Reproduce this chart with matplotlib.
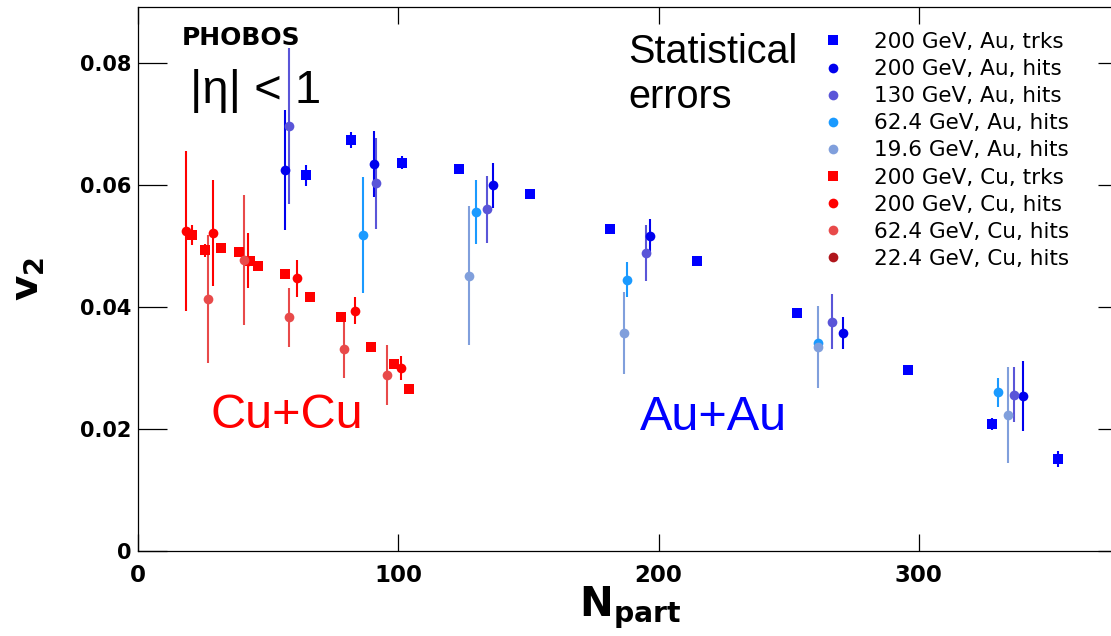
import matplotlib
matplotlib.use("Agg")
import matplotlib.pyplot as plt
from matplotlib.lines import Line2D
from matplotlib.ticker import FuncFormatter

# ---------------------------------------------------------------
# data
# ---------------------------------------------------------------
au_trk_npart = [64.5, 81.9, 101.4, 123.2, 150.8, 181.2, 214.9, 253.3, 295.9, 328.0, 353.3]
au_trk_v2 = [0.0616, 0.0674, 0.0637, 0.0626, 0.0586, 0.0528, 0.0475, 0.0390, 0.0297, 0.0208, 0.0151]
au_trk_err = [0.0017, 0.0013, 0.0011, 0.0008, 0.0005, 0.0005, 0.0005, 0.0005, 0.0006, 0.0010, 0.0013]

au200_npart = [56.5, 90.8, 136.4, 196.7, 271.0, 339.9]
au200_v2 = [0.0625, 0.0634, 0.0600, 0.0516, 0.0358, 0.0254]
au200_err = [0.0098, 0.0054, 0.0037, 0.0029, 0.0026, 0.0058]

au130_npart = [58.2, 91.3, 134.2, 195.0, 266.8, 336.7]
au130_v2 = [0.0697, 0.0603, 0.0560, 0.0489, 0.0376, 0.0256]
au130_err = [0.0128, 0.0075, 0.0055, 0.0046, 0.0045, 0.0045]

au62_npart = [86.4, 130.0, 188.0, 261.3, 330.3]
au62_v2 = [0.0518, 0.0556, 0.0445, 0.0341, 0.0260]
au62_err = [0.0095, 0.0053, 0.0029, 0.0012, 0.0024]

au19_npart = [127.2, 186.9, 261.3, 334.1]
au19_v2 = [0.0451, 0.0358, 0.0334, 0.0223]
au19_err = [0.0114, 0.0067, 0.0067, 0.0078]

cu_trk_npart = [20.6, 25.8, 31.9, 38.8, 43.1, 46.0, 56.3, 66.0, 78.1, 89.5, 98.2, 104.1]
cu_trk_v2 = [0.0518, 0.0493, 0.0497, 0.0490, 0.0476, 0.0468, 0.0454, 0.0417, 0.0384, 0.0335, 0.0307, 0.0266]
cu_trk_err = [0.0016, 0.0011, 0.0008, 0.0008, 0.0008, 0.0007, 0.0007, 0.0006, 0.0006, 0.0005, 0.0005, 0.0005]

cu200_npart = [18.3, 29.0, 42.4, 60.9, 83.2, 101.2]
cu200_v2 = [0.0525, 0.0522, 0.0476, 0.0447, 0.0394, 0.0300]
cu200_err = [0.0131, 0.0087, 0.0045, 0.0030, 0.0022, 0.0019]

cu62_npart = [27.0, 40.9, 58.1, 79.2, 95.6]
cu62_v2 = [0.0413, 0.0477, 0.0383, 0.0332, 0.0289]
cu62_err = [0.0105, 0.0107, 0.0048, 0.0048, 0.0049]

cu22_npart = []
cu22_v2 = []
cu22_err = []

# (label, x, y, err, marker, colour) in legend / drawing order
series = [
    ("200 GeV, Au, trks", au_trk_npart, au_trk_v2, au_trk_err, "s", "#0000ff"),
    ("200 GeV, Au, hits", au200_npart, au200_v2, au200_err, "o", "#0000ee"),
    ("130 GeV, Au, hits", au130_npart, au130_v2, au130_err, "o", "#5a55d8"),
    ("62.4 GeV, Au, hits", au62_npart, au62_v2, au62_err, "o", "#1a9aff"),
    ("19.6 GeV, Au, hits", au19_npart, au19_v2, au19_err, "o", "#809fdc"),
    ("200 GeV, Cu, trks", cu_trk_npart, cu_trk_v2, cu_trk_err, "s", "#ff0000"),
    ("200 GeV, Cu, hits", cu200_npart, cu200_v2, cu200_err, "o", "#ff0000"),
    ("62.4 GeV, Cu, hits", cu62_npart, cu62_v2, cu62_err, "o", "#e84a4a"),
    ("22.4 GeV, Cu, hits", cu22_npart, cu22_v2, cu22_err, "o", "#b0161c"),
]

W, H = 1111, 636
fig = plt.figure(figsize=(W / 100, H / 100), dpi=100)
# axes box in pixels: left 138, right 1127 (right spine just off the picture), top 7, bottom 551
ax = fig.add_axes([138 / W, 85 / H, 989 / W, 544 / H])

handles = []
for label, x, y, err, marker, color in series:
    ms = 7.5 if marker == "s" else 7
    if len(x):
        ax.errorbar(x, y, yerr=err, fmt=marker, color=color, ecolor=color,
                    markersize=ms, elinewidth=1.5, capsize=0, markeredgewidth=0)
    handles.append(Line2D([], [], linestyle="none", marker=marker, color=color,
                          markersize=ms, markeredgewidth=0, label=label))

ax.set_xlim(0, 380)
ax.set_ylim(0, 0.0892)
ax.set_xticks([0, 100, 200, 300])
ax.set_yticks([0, 0.02, 0.04, 0.06, 0.08])
ax.yaxis.set_major_formatter(FuncFormatter(lambda v, p: "0" if v == 0 else f"{v:.2f}"))

ax.tick_params(axis="x", direction="in", top=True, length=12, width=0.9, pad=9,
               labelsize=16.5)
ax.tick_params(axis="y", direction="in", right=True, length=21, width=0.9, pad=5,
               labelsize=15)
for lab in ax.get_xticklabels() + ax.get_yticklabels():
    lab.set_fontweight("bold")
for sp in ax.spines.values():
    sp.set_linewidth(0.9)

ax.set_xlabel(r"$\mathbf{N_{part}}$", fontsize=29)
ax.xaxis.set_label_coords(0.4975, -0.062)
ax.set_ylabel(r"$\mathbf{v_2}$", fontsize=28)
ax.yaxis.set_label_coords(-0.092, 0.5)

# annotations
ax.text(16.9, 0.083, "PHOBOS", fontsize=18, fontweight="bold", va="baseline")
ax.text(20.0, 0.0734, "|η| < 1", fontsize=34, family="Liberation Sans", va="baseline")
ax.text(188.5, 0.0800, "Statistical", fontsize=28.5, family="Liberation Sans", va="baseline")
ax.text(188.5, 0.0726, "errors", fontsize=28.5, family="Liberation Sans", va="baseline")
ax.text(27.7, 0.0202, "Cu+Cu", fontsize=35, family="Liberation Sans", color="#ff0000",
        va="baseline")
ax.text(193.0, 0.0198, "Au+Au", fontsize=35, family="Liberation Sans", color="#0000ff",
        va="baseline")

fig.legend(handles=handles, loc="upper left", bbox_to_anchor=(822 / W, 1 - 32 / H),
           frameon=False, fontsize=15.5, handlelength=1.0, handletextpad=1.4,
           labelspacing=0.33, borderpad=0, borderaxespad=0)

fig.savefig("out.png", dpi=100)
